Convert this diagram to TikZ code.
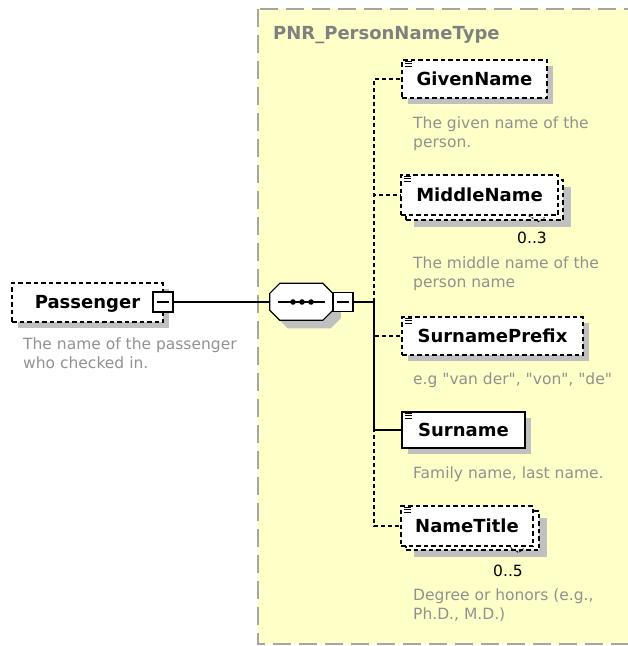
\documentclass[tikz,border=0pt]{standalone}
\usepackage{fontspec}
\setmainfont{DejaVu Sans}[Ligatures=TeXOff]
\usetikzlibrary{shadows}
\definecolor{bgyellow}{RGB}{255,255,200}
\definecolor{bordergray}{RGB}{165,165,165}
\definecolor{shadowgray}{RGB}{192,192,192}
\definecolor{desccol}{RGB}{145,145,145}
\definecolor{titlegray}{RGB}{128,128,128}
\newcommand\elfont{\fontsize{18}{21}\selectfont\bfseries}
\newcommand\dscfont{\fontsize{15.5}{19}\selectfont}
\newcommand\elicon[1]{\draw[iconline] ([shift={(4,2)}]#1.north west) -- ++(7,0) ([shift={(4,4.5)}]#1.north west) -- ++(7,0) ([shift={(4,7)}]#1.north west) -- ++(7,0);}
\begin{document}
\begin{tikzpicture}[x=1pt,y=-1pt,
  elem/.style={draw=black, fill=white, line width=1.2pt, dash pattern=on 4.5pt off 3pt,
    inner sep=0pt, font=\elfont, text height=12.8pt, text depth=0pt},
  elemsolid/.style={draw=black, fill=white, line width=1.6pt,
    inner sep=0pt, font=\elfont, text height=12.8pt, text depth=0pt},
  shad/.style={drop shadow={shadow xshift=6pt, shadow yshift=-6pt, opacity=1, fill=shadowgray}},
  shadb/.style={drop shadow={shadow xshift=8pt, shadow yshift=-7pt, opacity=1, fill=shadowgray}},
  minusbox/.style={draw=black, fill=white, line width=1.2pt, minimum width=20pt, minimum height=20pt, inner sep=0pt},
  conn/.style={draw=black, line width=1.3pt},
  dconn/.style={draw=black, line width=1.2pt, dash pattern=on 4pt off 3pt},
  iconline/.style={draw=black, line width=0.9pt},
  occmark/.style={draw=black, line width=0.9pt, dash pattern=on 2pt off 1.5pt},
  desc/.style={anchor=base west, inner sep=0pt, font=\dscfont, text=desccol, align=left},
  occ/.style={inner sep=0pt, font=\dscfont, text=black}
]
\useasboundingbox (0,0) rectangle (628,646);
\clip (0,0) rectangle (628,646);

% complex type region
\draw[fill=bgyellow, draw=bordergray, line width=2pt, dash pattern=on 18pt off 8pt] (258,9) rectangle (660,644);
\node[anchor=base west, inner sep=0pt, font=\elfont, text=titlegray] (ptype) at (273,39.5) {PNR\_PersonNameType};

% Passenger element
\node[elem, shad, minimum width=151pt, minimum height=39pt] (pass) at (87.5,302.5) {Passenger\hspace{8pt}};
\node[minusbox] (pm) at (163,302) {};
\draw[line width=1.2pt] ([xshift=-6pt]pm.center) -- ([xshift=6pt]pm.center);
\node[desc] (passd) at (23,368) {The name of the passenger\\who checked in.};

% sequence compositor
\node[inner sep=0pt, minimum width=63pt, minimum height=37pt] (seq) at (301.5,302) {};
\draw[fill=white, line width=1.2pt, drop shadow={shadow xshift=8pt, shadow yshift=-8pt, opacity=1, fill=shadowgray}]
  ([xshift=10pt]seq.north west) -- ++(43,0) -- ++(10,10) -- ++(0,17) -- ++(-10,10) -- ++(-43,0) -- ++(-10,-10) -- ++(0,-17) -- cycle;
\draw[line width=1.3pt] ([xshift=8pt]seq.west) -- ([xshift=-8pt]seq.east);
\foreach \dx in {-8.5,0.5,9.5} \fill ([xshift=\dx pt]seq.center) circle (2.8pt);
\node[minusbox, minimum height=19pt] (sm) at (343,302) {};
\draw[line width=1.2pt] ([xshift=-6pt]sm.center) -- ([xshift=6pt]sm.center);
\coordinate (j) at (374,302);

% children
\node[elem, shad, minimum width=145pt, minimum height=38pt] (given) at (474.5,79) {GivenName};
\node[desc] (givend) at (413,147) {The given name of the\\person.};

\node[elem, shadb, minimum width=157pt, minimum height=40pt] (midb) at (484.5,200) {};
\node[elem, minimum width=157pt, minimum height=40pt] (mid) at (479.5,195) {MiddleName};
\draw[occmark] ([shift={(-35,-5)}]midb.south east) -- ([shift={(-25,1)}]midb.south east) -- ([shift={(-19,-3)}]midb.south east);
\node[occ] (midocc) at (532,238) {0..3};
\node[desc] (midd) at (413,287) {The middle name of the\\person name};

\node[elem, shad, minimum width=181pt, minimum height=38pt] (pref) at (492.5,336) {SurnamePrefix};
\node[desc] (prefd) at (413,384) {e.g "van der", "von", "de"};

\node[elemsolid, shad, minimum width=123pt, minimum height=36pt] (sur) at (463.5,430) {Surname};
\node[desc] (surd) at (413,478) {Family name, last name.};

\node[elem, shadb, minimum width=133pt, minimum height=39pt] (titb) at (472.5,530.5) {};
\node[elem, minimum width=132pt, minimum height=40pt] (tit) at (467,526) {NameTitle};
\draw[occmark] ([shift={(-32,-5)}]titb.south east) -- ([shift={(-21,2)}]titb.south east) -- ([shift={(-16,-2)}]titb.south east);
\node[occ] (titocc) at (508,571) {0..5};
\node[desc] (titd) at (413,619) {Degree or honors (e.g.,\\Ph.D., M.D.)};

% icons
\elicon{given}
\elicon{mid}
\elicon{pref}
\elicon{sur}
\elicon{tit}

% connectors
\draw[conn] (pm.east) -- (seq.west);
\draw[conn] (sm.east) -- (j);
\draw[dconn] (j) |- (given.west);
\draw[dconn] (j) |- (mid.west);
\draw[dconn] (j) |- (pref.west);
\draw[dconn] (j) |- (tit.west);
\draw[conn] (j) |- (sur.west);
\end{tikzpicture}
\end{document}
